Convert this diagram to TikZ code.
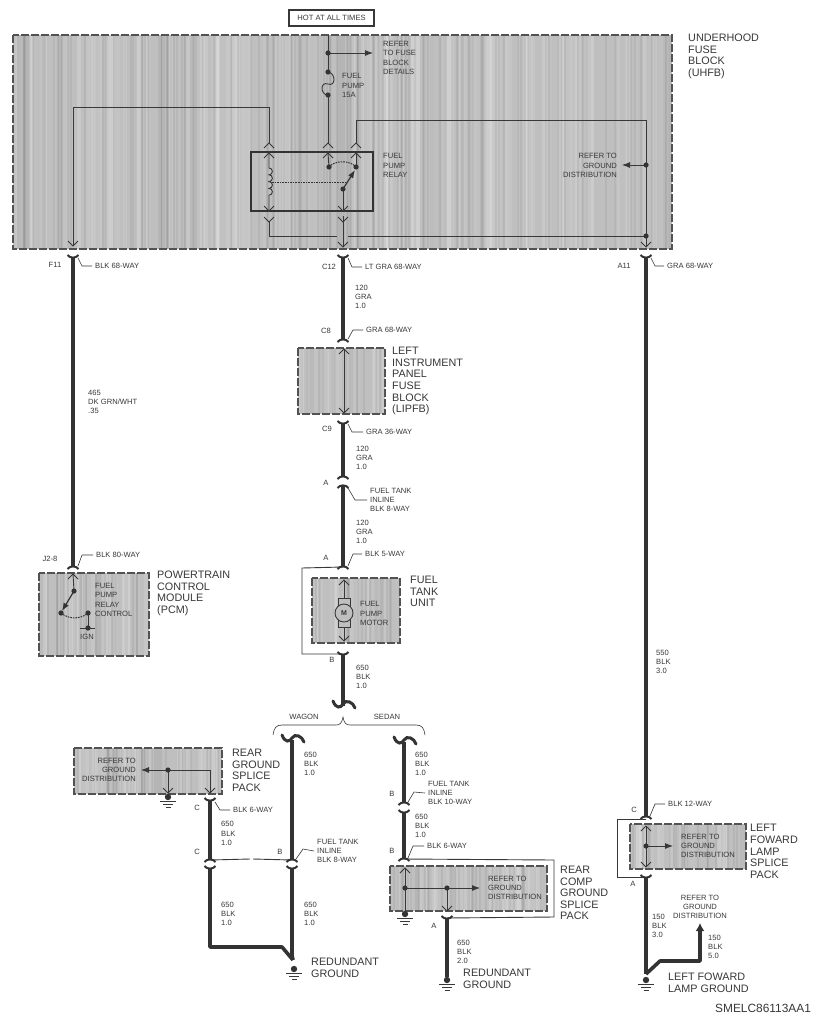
\documentclass[tikz,border=0pt]{standalone}
\usepackage{fontspec}
\setmainfont{Liberation Sans}
\usetikzlibrary{calc,arrows.meta}
\definecolor{inkgray}{gray}{0.22}
\definecolor{wiregray}{gray}{0.2}
\definecolor{boxgray}{gray}{0.75}
\tikzset{
	wirelbl/.style={anchor=west, align=left, inner sep=0pt, text=inkgray, font=\fontsize{7.6}{9.2}\selectfont},
	pinlbl/.style={inner sep=0pt, text=inkgray, font=\fontsize{7.6}{9.2}\selectfont},
	bigname/.style={anchor=west, align=left, inner sep=0pt, text=inkgray, font=\fontsize{10.8}{11.6}\selectfont},
	thinwire/.style={line width=0.9pt, color=inkgray},
	fatwire/.style={line width=3.6pt, color=wiregray, line join=round},
	capline/.style={line width=2pt, color=wiregray},
	leader/.style={line width=0.6pt, color=inkgray},
	boxedge/.style={line width=1.5pt, color=black!68, dash pattern=on 8pt off 2pt},
	pointer/.style={thinwire, -{Latex[length=8pt,width=6pt]}},
	fatpointer/.style={fatwire, -{Latex[length=8pt,width=9pt]}},
	dotfill/.style={fill=wiregray, draw=none}
}
\def\dotat(#1){\fill[dotfill] (#1) circle (2.6);}
\def\plugup(#1){\draw[thinwire] ($(#1)+(-5,5)$) -- (#1) -- ($(#1)+(5,5)$);}
\def\plugdown(#1){\draw[thinwire] ($(#1)+(-5,-5)$) -- (#1) -- ($(#1)+(5,-5)$);}
\def\capup(#1){\draw[capline] ($(#1)+(-5.5,-2)$) .. controls ($(#1)+(-3,1.5)$) and ($(#1)+(3,1.5)$) .. ($(#1)+(5.5,-2)$);}
\def\capdown(#1){\draw[capline] ($(#1)+(-5.5,2)$) .. controls ($(#1)+(-3,-1.5)$) and ($(#1)+(3,-1.5)$) .. ($(#1)+(5.5,2)$);}
\def\gndat(#1){\fill[dotfill] (#1) circle (3.2);
	\draw[thinwire] ($(#1)+(-8,4.5)$) -- ($(#1)+(8,4.5)$);
	\draw[thinwire] ($(#1)+(-5,7.5)$) -- ($(#1)+(5,7.5)$);
	\draw[thinwire] ($(#1)+(-2.5,10)$) -- ($(#1)+(2.5,10)$);}
\def\tildeat(#1){\draw[line width=3pt, color=wiregray, line cap=round] ($(#1)+(-10,-5)$) .. controls ($(#1)+(-7,3)$) and ($(#1)+(-2,2)$) .. ($(#1)+(0,-2)$) .. controls ($(#1)+(3,-7)$) and ($(#1)+(10,-4)$) .. ($(#1)+(12,2)$);}
\def\grainbox(#1,#2)(#3,#4){
	\begin{scope}
		\clip (#1,#2) rectangle (#3,#4);
		\fill[boxgray] (#1,#2) rectangle (#3,#4);
		\pgfmathsetmacro\bandcount{int(round((#3-#1)/4))}
		\foreach \i in {1,...,\bandcount}{
			\pgfmathsetmacro\bx{#1+rnd*(#3-#1)}
			\pgfmathsetmacro\bw{1+rnd*6}
			\pgfmathsetmacro\bo{0.03+rnd*0.12}
			\fill[white, opacity=\bo] (\bx,#2) rectangle ({\bx+\bw},#4);
			\pgfmathsetmacro\dx{#1+rnd*(#3-#1)}
			\fill[black, opacity=0.05] (\dx,#2) rectangle ({\dx+2},#4);
		}
	\end{scope}
	\draw[boxedge] (#1,#2) rectangle (#3,#4);
}

\begin{document}
\begin{tikzpicture}[x=1pt, y=-1pt]
	%%%%% START %%%%%
	\useasboundingbox (0,0) rectangle (821,1023);
	\fill[white] (0,0) rectangle (821,1023);
	\pgfmathsetseed{11}

	% shaded blocks
	\grainbox(13,35)(672,249)
	\grainbox(298,348)(385,414)
	\grainbox(39,573)(149,656)
	\grainbox(312,578)(400,643)
	\grainbox(74,748)(222,794)
	\grainbox(390,866)(547,911)
	\grainbox(630,824)(746,869)

	% wire points
	\coordinate (feedtop) at (328,35);
	\coordinate (feeddot) at (328,53);
	\coordinate (feedtip) at (373,53);
	\coordinate (fusetop) at (328,72);
	\coordinate (fusebot) at (328,95);
	\coordinate (relayA) at (328,143);
	\coordinate (relayAin) at (328,153);
	\coordinate (contactA) at (329,167);
	\coordinate (relayB) at (356,143);
	\coordinate (relayBin) at (356,153);
	\coordinate (contactB) at (356,167);
	\coordinate (bturn) at (356,120);
	\coordinate (rightturn) at (646,120);
	\coordinate (grounddot) at (646,165);
	\coordinate (groundtip) at (622,165);
	\coordinate (busdot) at (646,236);
	\coordinate (uhfbA) at (646,247);
	\coordinate (pcmturn) at (73,107);
	\coordinate (coilturn) at (269,107);
	\coordinate (relayC) at (269,143);
	\coordinate (relayCin) at (269,153);
	\coordinate (coiltop) at (269,168);
	\coordinate (coilbot) at (269,195);
	\coordinate (coilout) at (269,211);
	\coordinate (relayD) at (269,222);
	\coordinate (busleft) at (269,236);
	\coordinate (busgapL) at (337,236);
	\coordinate (busgapR) at (348,236);
	\coordinate (armdot) at (343,189);
	\coordinate (armout) at (343,211);
	\coordinate (relayE) at (343,222);
	\coordinate (uhfbC) at (343,247);
	\coordinate (uhfbF) at (73,246);
	\coordinate (linkR) at (272,182);
	\coordinate (linkL) at (345,182);

	% underhood fuse block
	\node[draw=inkgray, line width=1.2pt, minimum width=85pt, minimum height=16pt, inner sep=0pt, text=inkgray, font=\fontsize{7.6}{9}\selectfont] (hotbox) at (331.5,18) {HOT AT ALL TIMES};
	\draw[thinwire] (feedtop) -- (fusetop);
	\draw[pointer] (feeddot) -- (feedtip);
	\dotat(feeddot)
	\dotat(fusetop)
	\dotat(fusebot)
	\draw[thinwire] (fusetop) .. controls (336,73) and (336,87) .. (328,84) .. controls (320,81) and (320,95) .. (fusebot);
	\draw[thinwire] (fusebot) -- (relayA);
	\plugup(relayA)
	\plugup(relayB)
	\plugup(relayC)
	\draw[line width=1.6pt, color=wiregray] (251,152) rectangle (373,211);
	\plugup(relayAin)
	\plugup(relayBin)
	\plugup(relayCin)
	\draw[thinwire] (relayAin) -- (contactA);
	\draw[thinwire] (relayBin) -- (contactB);
	\draw[thinwire] (relayB) -- (bturn) -- (rightturn) -- (uhfbA);
	\plugdown(uhfbA)
	\draw[thinwire] (pcmturn) -- (coilturn) -- (relayC);
	\draw[thinwire] (pcmturn) -- (uhfbF);
	\plugdown(uhfbF)
	\draw[thinwire] (relayCin) -- (coiltop) arc (-90:90:3.4) arc (-90:90:3.4) arc (-90:90:3.4) arc (-90:90:3.4) -- (coilout);
	\plugdown(coilout)
	\draw[thinwire] (armdot) -- (armout);
	\plugdown(armout)
	\plugdown(relayD)
	\plugdown(relayE)
	\draw[thinwire] (relayD) -- (busleft) -- (busgapL);
	\draw[thinwire] (busgapR) -- (busdot);
	\draw[thinwire] (relayE) -- ($(relayE)+(0,-6)$);
	\draw[thinwire] (relayE) -- (uhfbC);
	\plugdown(uhfbC)
	\draw[line width=1pt, color=wiregray, dash pattern=on 1.6pt off 1pt] (linkR) -- (linkL);
	\draw[line width=1pt, color=wiregray, dash pattern=on 1.6pt off 1pt] (contactA) .. controls (335,160) and (350,160) .. (contactB);
	\draw[line width=1.2pt, color=wiregray, -{Latex[length=8pt,width=6pt]}] (armdot) -- ($(contactB)+(-1,3)$);
	\dotat(contactA)
	\dotat(contactB)
	\dotat(armdot)
	\draw[pointer] (grounddot) -- (groundtip);
	\dotat(grounddot)
	\dotat(busdot)

	\node[bigname] (uhfbname) at (688,56.5) {UNDERHOOD\\FUSE\\BLOCK\\(UHFB)};
	\node[wirelbl] (feedlbl) at (383,58) {REFER\\TO FUSE\\BLOCK\\DETAILS};
	\node[wirelbl] (fuselbl) at (342,85.5) {FUEL\\PUMP\\15A};
	\node[wirelbl] (relaylbl) at (383,165.5) {FUEL\\PUMP\\RELAY};
	\node[pinlbl, anchor=east, align=right] (grndlblA) at (617,165.5) {REFER TO\\GROUND\\DISTRIBUTION};

	% pcm branch
	\coordinate (f11top) at (73,257);
	\coordinate (j28bot) at (73,567);
	\coordinate (pcmtip) at (73,574);
	\coordinate (pcmdotA) at (74,591);
	\coordinate (pcmdotB) at (61,613);
	\coordinate (pcmdotC) at (88,613);
	\coordinate (pcmdotD) at (88,628);
	\coordinate (ignL) at (80,628);
	\coordinate (ignR) at (95,628);
	\draw[fatwire] (f11top) -- (j28bot);
	\capup(f11top)
	\capdown(j28bot)
	\plugup(pcmtip)
	\draw[thinwire] (pcmtip) -- (pcmdotA);
	\draw[line width=1.2pt, color=wiregray, -{Latex[length=8pt,width=6pt]}] (pcmdotA) -- ($(pcmdotB)+(1,-2)$);
	\draw[line width=1pt, color=wiregray, dash pattern=on 1.6pt off 1pt] (pcmdotB) .. controls (68,619) and (80,620) .. (pcmdotC);
	\draw[thinwire] (pcmdotC) -- (pcmdotD);
	\draw[thinwire] (ignL) -- (ignR);
	\dotat(pcmdotA)
	\dotat(pcmdotB)
	\dotat(pcmdotC)
	\dotat(pcmdotD)
	\node[pinlbl] (f11lbl) at (55,265) {F11};
	\node[wirelbl] (f11way) at (95,266) {BLK 68-WAY};
	\node[wirelbl] (w465) at (88,402) {465\\DK GRN/WHT\\.35};
	\node[pinlbl] (j28lbl) at (50,559) {J2-8};
	\node[wirelbl] (j28way) at (96,555) {BLK 80-WAY};
	\node[wirelbl] (pcminner) at (95,600) {FUEL\\PUMP\\RELAY\\CONTROL};
	\node[pinlbl] (ignlbl) at (87,637) {IGN};
	\node[bigname] (pcmname) at (157,593.5) {POWERTRAIN\\CONTROL\\MODULE\\(PCM)};
	\draw[leader] ($(f11top)+(5,1)$) -- ++(4,8) -- ($(f11way.west)+(-3,0)$);
	\draw[leader] ($(j28bot)+(5,-1)$) -- ++(4,-11) -- ($(j28way.west)+(-3,0)$);

	% center branch
	\coordinate (c12top) at (343,257);
	\coordinate (c8bot) at (343,340);
	\coordinate (lipup) at (344,349);
	\coordinate (lipdn) at (344,413);
	\coordinate (c9top) at (343,423);
	\coordinate (c9bot) at (343,477);
	\coordinate (inAtop) at (343,486);
	\coordinate (tankA) at (343,567);
	\coordinate (tankB) at (343,654);
	\coordinate (tankL) at (302,568);
	\coordinate (tankLB) at (302,654);
	\coordinate (motorup) at (344,580);
	\coordinate (motordn) at (344,641);
	\coordinate (motorM) at (344,613);
	\coordinate (splitT) at (343,706);
	\draw[fatwire] (c12top) -- (c8bot);
	\capup(c12top)
	\capdown(c8bot)
	\draw[thinwire] (lipup) -- (lipdn);
	\plugup(lipup)
	\plugdown(lipdn)
	\draw[fatwire] (c9top) -- (c9bot);
	\capup(c9top)
	\capdown(c9bot)
	\draw[fatwire] (inAtop) -- (tankA);
	\capdown(inAtop)
	\capdown(tankA)
	\draw[thinwire] (tankA) -- (tankL) -- (tankLB) -- (tankB);
	\draw[thinwire] (motorup) -- (motordn);
	\plugup(motorup)
	\plugdown(motordn)
	\draw[thinwire, fill=boxgray] (338,598) rectangle (350,627);
	\node[draw=inkgray, line width=0.9pt, circle, fill=boxgray, minimum size=18pt, inner sep=0pt, text=inkgray, font=\fontsize{7}{8}\selectfont\bfseries] (motorcirc) at (motorM) {M};
	\draw[fatwire] (tankB) -- (splitT);
	\capup(tankB)
	\tildeat(splitT)
	\node[pinlbl] (c12lbl) at (329,267) {C12};
	\node[wirelbl] (c12way) at (365,267) {LT GRA 68-WAY};
	\node[wirelbl] (w120a) at (355,297) {120\\GRA\\1.0};
	\node[pinlbl] (c8lbl) at (326,331) {C8};
	\node[wirelbl] (c8way) at (366,330) {GRA 68-WAY};
	\node[bigname] (lipname) at (392,381) {LEFT\\INSTRUMENT\\PANEL\\FUSE\\BLOCK\\(LIPFB)};
	\node[pinlbl] (c9lbl) at (327,429) {C9};
	\node[wirelbl] (c9way) at (366,432) {GRA 36-WAY};
	\node[wirelbl] (w120b) at (356,458) {120\\GRA\\1.0};
	\node[pinlbl] (inAlbl) at (326,483) {A};
	\node[wirelbl] (inAway) at (370,500) {FUEL TANK\\INLINE\\BLK 8-WAY};
	\node[wirelbl] (w120c) at (356,532) {120\\GRA\\1.0};
	\node[pinlbl] (tkAlbl) at (326,558) {A};
	\node[wirelbl] (tkAway) at (365,554) {BLK 5-WAY};
	\node[wirelbl] (motorlbl) at (360,613.5) {FUEL\\PUMP\\MOTOR};
	\node[bigname] (tankname) at (410,591.5) {FUEL\\TANK\\UNIT};
	\node[pinlbl] (tkBlbl) at (332,660) {B};
	\node[wirelbl] (w650a) at (356,677) {650\\BLK\\1.0};
	\draw[leader] ($(c12top)+(5,1)$) -- ++(4,9) -- ($(c12way.west)+(-3,0)$);
	\draw[leader] ($(c8bot)+(5,-1)$) -- ++(5,-9) -- ($(c8way.west)+(-3,0)$);
	\draw[leader] ($(c9top)+(5,1)$) -- ++(4,8) -- ($(c9way.west)+(-3,0)$);
	\draw[leader] ($(inAtop)+(5,2)$) -- ++(7,12) -- ($(inAway.west)+(-3,0)$);
	\draw[leader] ($(tankA)+(5,-1)$) -- ++(5,-12) -- ($(tkAway.west)+(-3,0)$);

	% wagon sedan brace
	\coordinate (braceL) at (273,735);
	\coordinate (braceR) at (425,735);
	\coordinate (braceT) at (343,717);
	\draw[leader] (braceL) .. controls (274,728) and (276,725) .. (282,725) -- (336,725) .. controls (340,725) and (342,723) .. (braceT) .. controls (344,723) and (346,725) .. (350,725) -- (416,725) .. controls (422,725) and (424,728) .. (braceR);
	\node[pinlbl] (wagonlbl) at (304,717) {WAGON};
	\node[pinlbl] (sedanlbl) at (387,717) {SEDAN};

	% wagon side
	\coordinate (wagtilde) at (292,740);
	\coordinate (wagB) at (292,860);
	\coordinate (wagBlow) at (292,868);
	\coordinate (wagbend) at (282,947);
	\coordinate (gndbend) at (293,960);
	\coordinate (wagdrop) at (292,955);
	\coordinate (rearC) at (210,800);
	\coordinate (rearCb) at (210,860);
	\coordinate (rearClow) at (210,868);
	\coordinate (rearcorner) at (210,947);
	\coordinate (wagground) at (294,969);
	\coordinate (reargap1) at (250,859);
	\coordinate (reargap2) at (253,859);
	\coordinate (rearPin) at (210,793);
	\coordinate (rearGndPin) at (168,793);
	\coordinate (rearTurn) at (210,770);
	\coordinate (rearDot) at (168,770);
	\coordinate (rearTip) at (141,770);
	\coordinate (rearGnd) at (168,797);
	\tildeat(wagtilde)
	\draw[fatwire] (wagtilde) -- (wagB);
	\capdown(wagB)
	\capup(wagBlow)
	\draw[fatwire] (wagBlow) -- (wagdrop) -- (gndbend);
	\draw[fatwire] (rearC) -- (rearCb);
	\capup(rearC)
	\capdown(rearCb)
	\capup(rearClow)
	\draw[fatwire] (rearClow) -- (rearcorner) -- (wagbend) -- (gndbend);
	\draw[thinwire] (rearCb) -- (reargap1);
	\draw[thinwire] (reargap2) -- (wagB);
	\gndat(wagground)
	\draw[pointer] (rearTurn) -- (rearTip);
	\draw[thinwire] (rearTurn) -- (rearPin);
	\draw[thinwire] (rearDot) -- (rearGndPin);
	\plugdown(rearPin)
	\plugdown(rearGndPin)
	\dotat(rearDot)
	\gndat(rearGnd)
	\node[pinlbl, anchor=east, align=right] (grndlblB) at (136,770) {REFER TO\\GROUND\\DISTRIBUTION};
	\node[bigname] (rearname) at (232,770.5) {REAR\\GROUND\\SPLICE\\PACK};
	\node[pinlbl] (rearClbl) at (197,808) {C};
	\node[wirelbl] (rearway) at (233,810) {BLK 6-WAY};
	\node[wirelbl] (w650b) at (221,833.5) {650\\BLK\\1.0};
	\node[pinlbl] (rearC2lbl) at (197,852) {C};
	\node[pinlbl] (wagBlbl) at (280,852) {B};
	\node[wirelbl] (wagway) at (317,851) {FUEL TANK\\INLINE\\BLK 8-WAY};
	\node[wirelbl] (w650c) at (304,764) {650\\BLK\\1.0};
	\node[wirelbl] (w650d) at (221,914) {650\\BLK\\1.0};
	\node[wirelbl] (w650e) at (304,914) {650\\BLK\\1.0};
	\node[bigname] (redname) at (311,968) {REDUNDANT\\GROUND};
	\draw[leader] ($(rearC)+(5,2)$) -- ++(5,8) -- ($(rearway.west)+(-3,0)$);
	\draw[leader] ($(wagB)+(4,-1)$) -- ++(7,-10) -- ($(wagway.west)+(-3,0)$);

	% sedan side
	\coordinate (sedtilde) at (404,742);
	\coordinate (sedB) at (404,803);
	\coordinate (sedBlow) at (404,812);
	\coordinate (sedsplice) at (404,859);
	\coordinate (sedouter) at (554,860);
	\coordinate (sedouterB) at (554,917);
	\coordinate (sedA) at (447,918);
	\coordinate (sedgnd) at (447,980);
	\coordinate (sedAend) at (447,977);
	\coordinate (sedPinT) at (405,868);
	\coordinate (sedDotL) at (405,888);
	\coordinate (sedDotR) at (447,888);
	\coordinate (sedTip) at (480,888);
	\coordinate (sedPinB) at (447,911);
	\coordinate (sedGndIn) at (405,914);
	\tildeat(sedtilde)
	\draw[fatwire] (sedtilde) -- (sedB);
	\capdown(sedB)
	\capup(sedBlow)
	\draw[fatwire] (sedBlow) -- (sedsplice);
	\capdown(sedsplice)
	\draw[thinwire] (sedsplice) -- (sedouter) -- (sedouterB) -- (sedA);
	\draw[fatwire] (sedA) -- (sedAend);
	\capup(sedA)
	\gndat(sedgnd)
	\draw[thinwire] (sedPinT) -- (sedGndIn);
	\plugup(sedPinT)
	\draw[pointer] (sedDotL) -- (sedTip);
	\draw[thinwire] (sedDotR) -- (sedPinB);
	\plugdown(sedPinB)
	\dotat(sedDotL)
	\dotat(sedDotR)
	\gndat(sedGndIn)
	\node[wirelbl] (w650f) at (415,764) {650\\BLK\\1.0};
	\node[pinlbl] (sedBlbl) at (392,794) {B};
	\node[wirelbl] (sedway) at (428,793) {FUEL TANK\\INLINE\\BLK 10-WAY};
	\node[wirelbl] (w650g) at (415,826) {650\\BLK\\1.0};
	\node[pinlbl] (sedB2lbl) at (392,851) {B};
	\node[wirelbl] (sedspway) at (427,846) {BLK 6-WAY};
	\node[wirelbl] (grndlblC) at (488,888) {REFER TO\\GROUND\\DISTRIBUTION};
	\node[bigname] (compname) at (560,893) {REAR\\COMP\\GROUND\\SPLICE\\PACK};
	\node[pinlbl] (sedAlbl) at (434,926) {A};
	\node[wirelbl] (w650h) at (457,952) {650\\BLK\\2.0};
	\node[bigname] (red2name) at (463,979) {REDUNDANT\\GROUND};
	\draw[leader] ($(sedB)+(4,-1)$) -- ++(6,-10) -- ($(sedway.west)+(-3,0)$);
	\draw[leader] ($(sedsplice)+(4,-1)$) -- ++(5,-12) -- ($(sedspway.west)+(-3,0)$);

	% right branch
	\coordinate (a11top) at (646,257);
	\coordinate (lampC) at (646,817);
	\coordinate (lampL) at (617,819);
	\coordinate (lampLB) at (617,877);
	\coordinate (lampA) at (646,877);
	\coordinate (lampup) at (646,826);
	\coordinate (lampdn) at (646,867);
	\coordinate (lampDot) at (646,846);
	\coordinate (lampTip) at (673,846);
	\coordinate (lampEnd) at (646,974);
	\coordinate (lampGnd) at (646,980);
	\coordinate (lampBend) at (660,961);
	\coordinate (lampRise) at (700,961);
	\coordinate (lampUp) at (700,923);
	\draw[fatwire] (a11top) -- (lampC);
	\capup(a11top)
	\capdown(lampC)
	\draw[thinwire] (lampC |- lampL) -- (lampL) -- (lampLB) -- (lampA);
	\draw[thinwire] (lampup) -- (lampdn);
	\plugup(lampup)
	\plugdown(lampdn)
	\draw[pointer] (lampDot) -- (lampTip);
	\dotat(lampDot)
	\draw[fatwire] (lampA) -- (lampEnd);
	\capup(lampA)
	\draw[fatpointer] (lampEnd) -- (lampBend) -- (lampRise) -- (lampUp);
	\gndat(lampGnd)
	\node[pinlbl] (a11lbl) at (624,266) {A11};
	\node[wirelbl] (a11way) at (667,266) {GRA 68-WAY};
	\node[wirelbl] (w550) at (656,662) {550\\BLK\\3.0};
	\node[pinlbl] (lampClbl) at (634,810) {C};
	\node[wirelbl] (lampway) at (668,804) {BLK 12-WAY};
	\node[wirelbl] (grndlblD) at (681,846) {REFER TO\\GROUND\\DISTRIBUTION};
	\node[bigname] (lampname) at (750,851.5) {LEFT\\FOWARD\\LAMP\\SPLICE\\PACK};
	\node[pinlbl] (lampAlbl) at (633,884) {A};
	\node[pinlbl, align=center] (grndlblE) at (700,907) {REFER TO\\GROUND\\DISTRIBUTION};
	\node[wirelbl] (w150a) at (652,926) {150\\BLK\\3.0};
	\node[wirelbl] (w150b) at (708,947) {150\\BLK\\5.0};
	\node[bigname] (lampgname) at (668,982.5) {LEFT FOWARD\\LAMP GROUND};
	\node[anchor=west, inner sep=0pt, text=inkgray, font=\fontsize{11.9}{13}\selectfont] (partno) at (715,1008) {SMELC86113AA1};
	\draw[leader] ($(a11top)+(5,1)$) -- ++(4,8) -- ($(a11way.west)+(-3,0)$);
	\draw[leader] ($(lampC)+(4,-1)$) -- ++(5,-12) -- ($(lampway.west)+(-3,0)$);

	%%%%% END %%%%%
\end{tikzpicture}
\end{document}
